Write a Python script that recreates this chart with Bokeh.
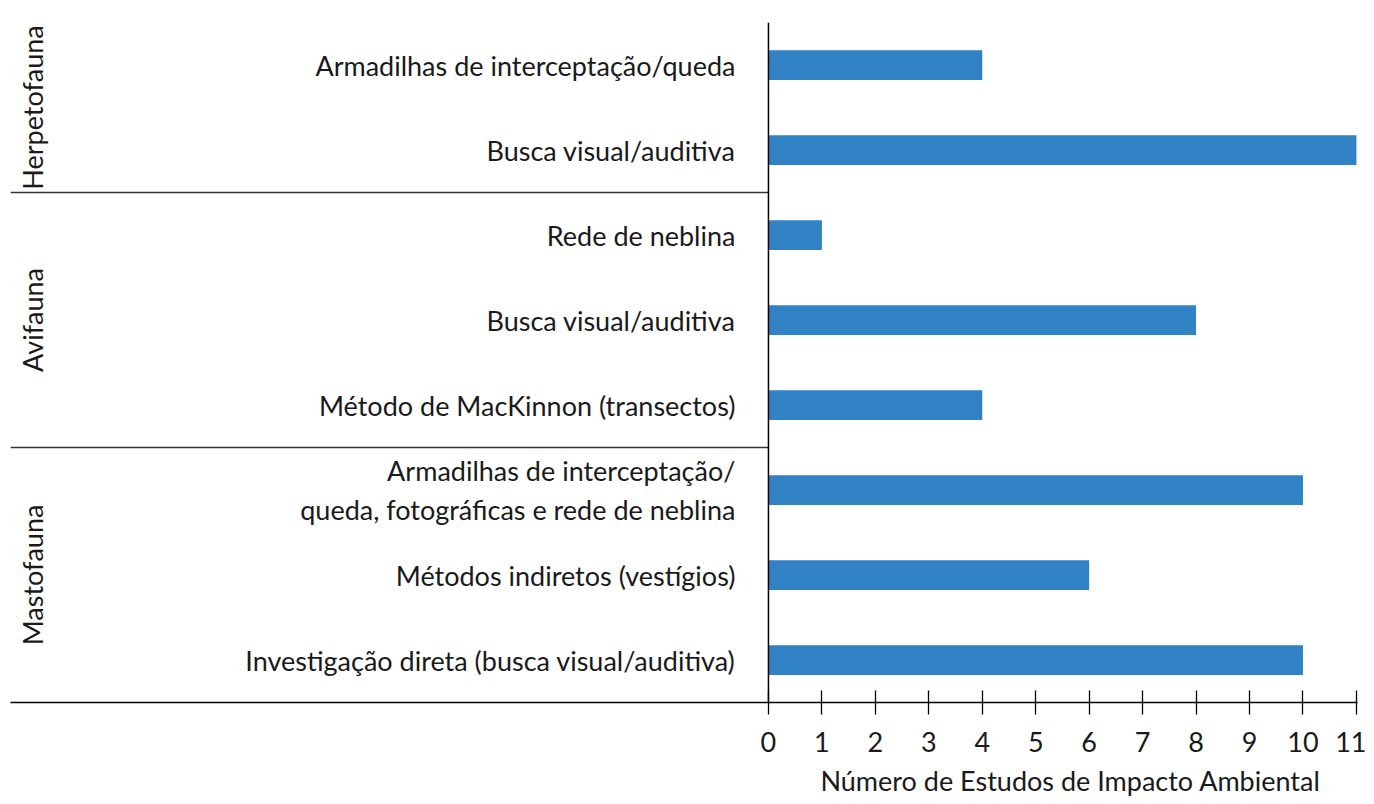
import math
from bokeh.plotting import figure
from bokeh.models import Range1d, FixedTicker, Span, Title, ColumnDataSource
from bokeh.core.properties import value
from bokeh.embed import file_html
from bokeh.resources import INLINE

# ---- data ----
groups = ["Herpetofauna", "Avifauna", "Mastofauna"]
herp_methods = ["Armadilhas de interceptação/queda", "Busca visual/auditiva"]
herp_counts = [4, 11]
avi_methods = ["Rede de neblina", "Busca visual/auditiva", "Método de MacKinnon (transectos)"]
avi_counts = [1, 8, 4]
masto_methods = ["Armadilhas de interceptação/\nqueda, fotográficas e rede de neblina",
                 "Métodos indiretos (vestígios)",
                 "Investigação direta (busca visual/auditiva)"]
masto_counts = [10, 6, 10]
x_ticks = list(range(0, 12))
x_title = "Número de Estudos de Impacto Ambiental"

group_methods = [herp_methods, avi_methods, masto_methods]
group_counts = [herp_counts, avi_counts, masto_counts]

labels, counts = [], []
for m, c in zip(group_methods, group_counts):
    labels += m
    counts += c
n = len(labels)
ys = list(range(n))

FONT = "Lato"
FS = "27px"
TXT = "#1a1a1a"

x_start, x_end = -14.18, 11.02
W, H = 1366, 804
BL, BR, BT, BB = 10, 9, 22, 101
p = figure(width=W, height=H, output_backend="svg", toolbar_location=None,
           x_range=Range1d(x_start, x_end), y_range=Range1d(n - 0.5, -0.5),
           y_axis_location=None, min_border_left=BL, min_border_right=BR,
           min_border_top=BT, min_border_bottom=BB)
p.outline_line_color = None
p.grid.visible = False
p.background_fill_color = "white"

src = ColumnDataSource(dict(y=ys, v=counts, lab=labels, x0=[0] * n))
p.hbar(y="y", left=0, right="v", height=0.35, source=src,
       fill_color="#3182C5", line_color=None)

p.text(x="x0", y="y", text="lab", source=src, x_offset=-33,
       text_align="right", text_baseline="middle", text_font=value(FONT),
       text_font_size=FS, text_color=TXT, text_line_height=1.2)

# group labels and separators
centers, bounds = [], []
start = 0
for m in group_methods:
    end = start + len(m)
    centers.append((start + end - 1) / 2)
    bounds.append(end - 0.5)
    start = end
p.text(x=[x_start] * len(groups), y=centers, text=groups, angle=math.pi / 2,
       x_offset=22, text_align="center", text_baseline="middle",
       text_font=value(FONT), text_font_size=FS, text_color=TXT)
sep = bounds[:-1]
p.segment(x0=[x_start] * len(sep), x1=[0] * len(sep), y0=sep, y1=sep,
          line_color="#333333", line_width=1.5)

p.add_layout(Span(location=0, dimension="height", line_color="black", line_width=1.5))

ax = p.xaxis[0]
ax.ticker = FixedTicker(ticks=x_ticks)
ax.major_tick_in = 12
ax.major_tick_out = 12
ax.minor_tick_line_color = None
ax.axis_line_color = "black"
ax.axis_line_width = 1.3
ax.major_tick_line_color = "black"
ax.major_tick_line_width = 1.3
ax.major_label_standoff = 17
ax.major_label_text_font = FONT
ax.major_label_text_font_size = FS
ax.major_label_text_color = TXT

# x-axis title placed under the 0..11 scale
frame_w = W - BL - BR
px_per_unit = frame_w / (x_end - x_start)
mid = (x_ticks[0] + x_ticks[-1]) / 2
shift = (mid - x_start) * px_per_unit + 8 - 250
p.add_layout(Title(text=x_title, align="left", offset=shift, text_font=FONT,
                   text_font_size=FS, text_font_style="normal", text_color=TXT,
                   standoff=15), "below")

open("out.html", "w").write(file_html(p, INLINE))
